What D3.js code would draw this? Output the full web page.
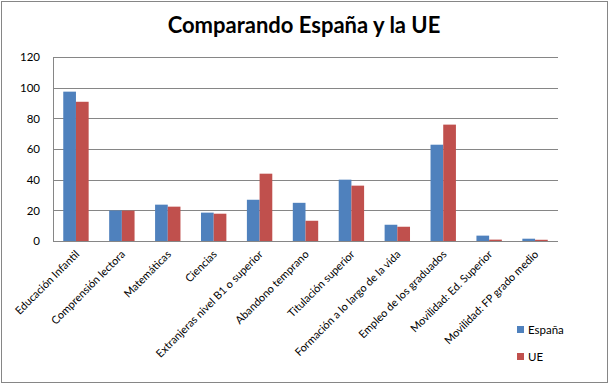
<!DOCTYPE html>
<html>
<head>
<meta charset="utf-8">
<script src="https://cdn.jsdelivr.net/npm/d3@7"></script>
<style>
  html, body { margin: 0; padding: 0; background: #fff; }
  svg { display: block; }
</style>
</head>
<body>
<svg id="chart" width="610" height="385"></svg>
<script>
const categories = [
  "Educación Infantil", "Comprensión lectora", "Matemáticas", "Ciencias",
  "Extranjeras nivel B1 o superior", "Abandono temprano", "Titulación superior",
  "Formación a lo largo de la vida", "Empleo de los graduados",
  "Movilidad: Ed. Superior", "Movilidad: FP grado medio"
];
const espana = [97.4, 19.9, 23.7, 18.5, 26.9, 24.9, 40.0, 10.6, 62.8, 3.5, 1.5];
const ue     = [90.8, 19.8, 22.4, 17.8, 43.9, 13.2, 36.1, 9.3, 75.9, 0.9, 0.8];
const seriesNames = ["España", "UE"];
const seriesColors = ["#4F81BD", "#C0504D"];
const yTicks = [0, 20, 40, 60, 80, 100, 120];
const title = "Comparando España y la UE";

const svg = d3.select("#chart");
const font = "Lato, 'Open Sans', sans-serif";
const grid = "#868686";

// outer border
svg.append("rect").attr("x", 1.5).attr("y", 1.5).attr("width", 606).attr("height", 381)
  .attr("fill", "#fff").attr("stroke", grid).attr("stroke-width", 1);

const plot = { left: 53, right: 558, top: 57, bottom: 241 };

const x0 = d3.scaleBand().domain(categories).range([plot.left, plot.right])
  .paddingInner(0.447).paddingOuter(0.2235);
const x1 = d3.scaleBand().domain(seriesNames).range([0, x0.bandwidth()]);
const y = d3.scaleLinear().domain([0, 120]).range([plot.bottom, plot.top]);

// gridlines
svg.append("g").selectAll("line").data(yTicks).join("line")
  .attr("x1", plot.left).attr("x2", plot.right)
  .attr("y1", d => Math.round(y(d)) + 0.5).attr("y2", d => Math.round(y(d)) + 0.5)
  .attr("stroke", grid).attr("stroke-width", 1);

// y axis line
svg.append("line").attr("x1", plot.left + 0.5).attr("x2", plot.left + 0.5)
  .attr("y1", y(120)).attr("y2", y(0) + 0.5).attr("stroke", grid);

// y labels
const yAxis = d3.axisLeft(y).tickValues(yTicks).tickSize(0).tickPadding(13);
const gy = svg.append("g").attr("transform", `translate(${plot.left},0)`).call(yAxis);
gy.select(".domain").remove();
gy.selectAll("text").attr("font-family", font).attr("font-size", 11.5).attr("fill", "#000");

// bars
const data = categories.map((c, i) => ({ cat: c, vals: [espana[i], ue[i]] }));
const groups = svg.append("g").selectAll("g").data(data).join("g")
  .attr("transform", d => `translate(${x0(d.cat)},0)`);
groups.selectAll("rect").data(d => d.vals.map((v, j) => ({ name: seriesNames[j], v, j })))
  .join("rect")
  .attr("x", d => x1(d.name))
  .attr("width", x1.bandwidth())
  .attr("y", d => y(d.v))
  .attr("height", d => y(0) - y(d.v))
  .attr("fill", d => seriesColors[d.j]);

// redraw baseline over bars
svg.append("line").attr("x1", plot.left).attr("x2", plot.right)
  .attr("y1", Math.round(y(0)) + 0.5).attr("y2", Math.round(y(0)) + 0.5).attr("stroke", grid);

// x labels rotated
svg.append("g").selectAll("text").data(categories).join("text")
  .attr("transform", d => `translate(${x0(d) + x0.bandwidth() / 2 + 4},${plot.bottom + 14}) rotate(-45)`)
  .attr("text-anchor", "end")
  .attr("font-family", font).attr("font-size", 10.9).attr("fill", "#000")
  .text(d => d);

// title
svg.append("text").attr("x", 304).attr("y", 33).attr("text-anchor", "middle")
  .attr("font-family", font).attr("font-weight", "bold").attr("font-size", 22)
  .attr("fill", "#000").text(title);

// legend
const legend = svg.append("g").selectAll("g").data(seriesNames).join("g")
  .attr("transform", (d, i) => `translate(517,${326 + i * 27})`);
legend.append("rect").attr("width", 7).attr("height", 7).attr("fill", (d, i) => seriesColors[i]);
legend.append("text").attr("x", 11).attr("y", 8).attr("font-family", font)
  .attr("font-size", 11.5).attr("fill", "#000").text(d => d);
</script>
</body>
</html>
